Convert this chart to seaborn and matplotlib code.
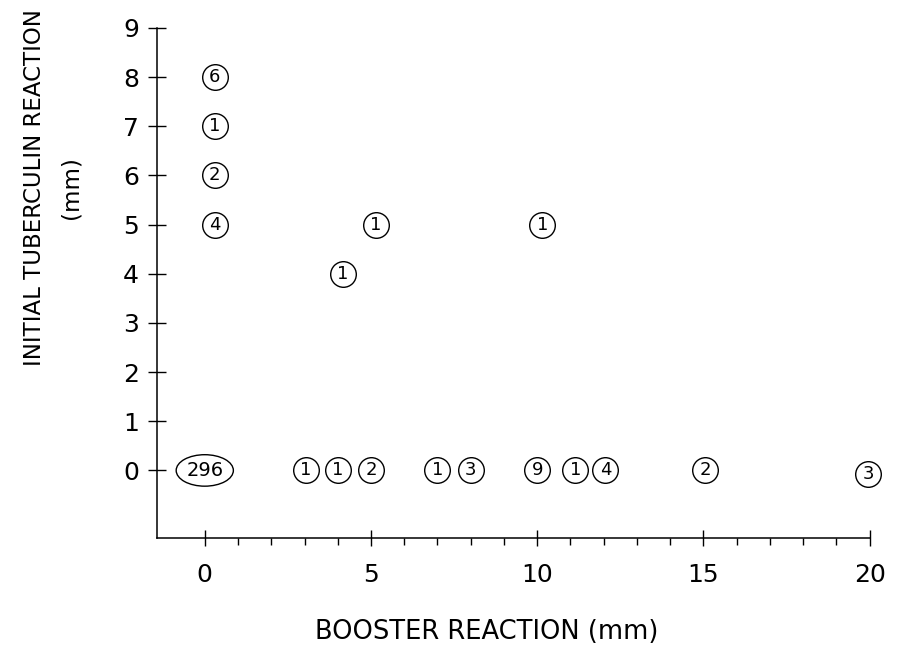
import matplotlib
matplotlib.use("Agg")
import matplotlib.pyplot as plt
from matplotlib.patches import Ellipse
import pandas as pd
import seaborn as sns

# ─── Data ─────────────────────────────────────────────────────────────────────
booster = [0.3, 0.3, 0.3, 0.3, 4.15, 5.15, 10.15,
           3.05, 4.0, 5.0, 7.0, 8.0, 10.0, 11.15, 12.05, 15.05, 19.95]
initial = [8, 7, 6, 5, 4, 5, 5,
           0, 0, 0, 0, 0, 0, 0, 0, 0, -0.08]
counts = [6, 1, 2, 4, 1, 1, 1,
          1, 1, 2, 1, 3, 9, 1, 4, 2, 3]

big_x, big_y, big_n = 0.0, 0.0, 296

x_ticks_major = [0, 5, 10, 15, 20]
x_ticks_minor = list(range(0, 21))
y_ticks = list(range(0, 10))

df = pd.DataFrame({"booster": booster, "initial": initial, "n": counts})

sns.set_theme(style="ticks")
plt.rcParams["font.family"] = ["DejaVu Sans"]
plt.rcParams.update({"text.color": "black", "axes.labelcolor": "black",
                     "xtick.color": "black", "ytick.color": "black"})

fig = plt.figure(figsize=(9.05, 6.47), dpi=100)
ax = fig.add_axes([0.173, 0.168, 0.788, 0.789])

sns.scatterplot(data=df, x="booster", y="initial", s=340, marker="o",
                facecolor="white", edgecolor="black", linewidth=1.0,
                ax=ax, clip_on=False, zorder=3, legend=False)
for _, r in df.iterrows():
    ax.text(r["booster"], r["initial"], str(int(r["n"])), ha="center",
            va="center", fontsize=13, zorder=4, clip_on=False)

# the big group at the origin gets an ellipse
ax.add_patch(Ellipse((big_x, big_y), width=1.72, height=0.64, facecolor="white",
                     edgecolor="black", linewidth=1.0, zorder=3))
ax.text(big_x, big_y, str(big_n), ha="center", va="center", fontsize=14,
        zorder=4)

ax.set_xlim(-1.45, 20.0)
ax.set_ylim(-1.38, 9.0)
ax.set_xticks(x_ticks_major)
ax.set_xticks(x_ticks_minor, minor=True)
ax.set_yticks(y_ticks)
ax.set_xticklabels([str(v) for v in x_ticks_major], fontsize=18)
ax.set_yticklabels([str(v) for v in y_ticks], fontsize=18)

ax.tick_params(axis="x", which="major", direction="inout", length=11,
               width=1.0, pad=12)
ax.tick_params(axis="x", which="minor", direction="out", length=5, width=1.0)
ax.tick_params(axis="y", which="major", direction="inout", length=13,
               width=1.0, pad=6)

for side in ("top", "right"):
    ax.spines[side].set_visible(False)
for side in ("left", "bottom"):
    ax.spines[side].set_color("black")
    ax.spines[side].set_linewidth(1.1)

ax.set_xlabel("BOOSTER REACTION (mm)", fontsize=18.5)
ax.set_ylabel("INITIAL TUBERCULIN REACTION\n(mm)", fontsize=16.5,
              multialignment="center", linespacing=1.75)
ax.xaxis.set_label_coords(0.463, -0.159)
ax.yaxis.set_label_coords(-0.104, 0.688)

fig.savefig("out.png", dpi=100, facecolor="white")
